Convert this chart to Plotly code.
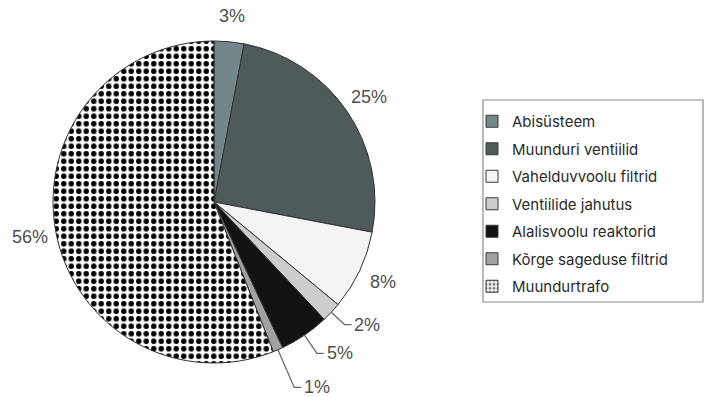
import math
import plotly.graph_objects as go

# Cost breakdown of a converter station (share of total, %)
categories = [
    "Abisüsteem",
    "Muunduri ventiilid",
    "Vahelduvvoolu filtrid",
    "Ventiilide jahutus",
    "Alalisvoolu reaktorid",
    "Kõrge sageduse filtrid",
    "Muundurtrafo",
]
shares = [3, 25, 8, 2, 5, 1, 56]

slice_colors = ["#74868a", "#4f5a5b", "#f4f4f4", "#cdcdcd", "#121212", "#a2a2a2", "#ffffff"]
slice_patterns = ["", "", "", "", "", "", "."]

# canvas geometry (pixels)
W, H = 709, 397
CX, CY, R = 214, 202, 161
LABEL_GAP = 26          # distance of plain labels outside the rim
LEADER_EXT = {3: 18, 4: 22, 5: 41}   # slices labelled through a leader line
LEADER_TAIL = 7

LABEL_FONT = dict(family="Liberation Sans, Arial, sans-serif", size=18, color="#505050")
LEGEND_FONT = dict(family="Inter, Roboto, sans-serif", size=15, color="#2a2a2a")


def px_to_paper(x, y):
    return x / W, 1 - y / H


def rim_point(angle_deg, radius):
    a = math.radians(angle_deg)
    return CX + radius * math.sin(a), CY - radius * math.cos(a)


fig = go.Figure()

fig.add_trace(go.Pie(
    labels=categories,
    values=shares,
    sort=False,
    direction="clockwise",
    rotation=0,
    textinfo="none",
    hoverinfo="label+percent",
    showlegend=False,
    marker=dict(
        colors=slice_colors,
        line=dict(color="#333333", width=1),
        pattern=dict(shape=slice_patterns, fgcolor="#000000", size=7.5, solidity=0.42),
    ),
    domain=dict(
        x=[(CX - R) / W, (CX + R) / W],
        y=[1 - (CY + R) / H, 1 - (CY - R) / H],
    ),
))

# legend entries drawn as empty bar traces so each row can be spaced out
for name, color, pat in zip(categories, slice_colors, slice_patterns):
    fig.add_trace(go.Bar(
        x=[None], y=[None], name=name, legendgroup=name,
        marker=dict(
            color=color,
            line=dict(color="#3a3a3a", width=1),
            pattern=dict(shape=pat, fgcolor="#000000", size=5, solidity=0.5),
        ),
        hoverinfo="skip",
    ))

# percentage labels around the pie
total = sum(shares)
annotations = []
shapes = []
cum = 0.0
for i, v in enumerate(shares):
    mid = (cum + v / 2) / total * 360
    cum += v
    text = f"{v}%"
    if i in LEADER_EXT:
        sx, sy = rim_point(mid, R)
        ex, ey = rim_point(mid, R + LEADER_EXT[i])
        tx = ex + LEADER_TAIL
        p = [px_to_paper(sx, sy), px_to_paper(ex, ey), px_to_paper(tx, ey)]
        shapes.append(dict(
            type="path", xref="paper", yref="paper",
            path=f"M {p[0][0]},{p[0][1]} L {p[1][0]},{p[1][1]} L {p[2][0]},{p[2][1]}",
            line=dict(color="#6a6a6a", width=1.3),
        ))
        ax, ay = px_to_paper(tx + 1, ey)
        annotations.append(dict(
            x=ax, y=ay, xref="paper", yref="paper", text=text, showarrow=False,
            xanchor="left", yanchor="middle", font=LABEL_FONT,
        ))
    else:
        lx, ly = rim_point(mid, R + LABEL_GAP)
        ax, ay = px_to_paper(lx, ly)
        annotations.append(dict(
            x=ax, y=ay, xref="paper", yref="paper", text=text, showarrow=False,
            xanchor="center", yanchor="middle", font=LABEL_FONT,
        ))

# legend frame
bx0, by0 = px_to_paper(483, 100)
bx1, by1 = px_to_paper(703, 302)
shapes.append(dict(
    type="rect", xref="paper", yref="paper", x0=bx0, y0=by1, x1=bx1, y1=by0,
    line=dict(color="#8c8c8c", width=1.2), fillcolor="rgba(0,0,0,0)",
))

lgx, lgy = px_to_paper(472, 105)
fig.update_layout(
    width=W, height=H,
    margin=dict(l=0, r=0, t=0, b=0),
    paper_bgcolor="#ffffff",
    plot_bgcolor="#ffffff",
    xaxis=dict(visible=False),
    yaxis=dict(visible=False),
    showlegend=True,
    legend=dict(
        x=lgx, y=lgy, xanchor="left", yanchor="top",
        traceorder="grouped", tracegroupgap=5,
        font=LEGEND_FONT, bgcolor="rgba(0,0,0,0)", borderwidth=0,
    ),
    annotations=annotations,
    shapes=shapes,
    hovermode=False,
)

fig.write_html("out.html")
